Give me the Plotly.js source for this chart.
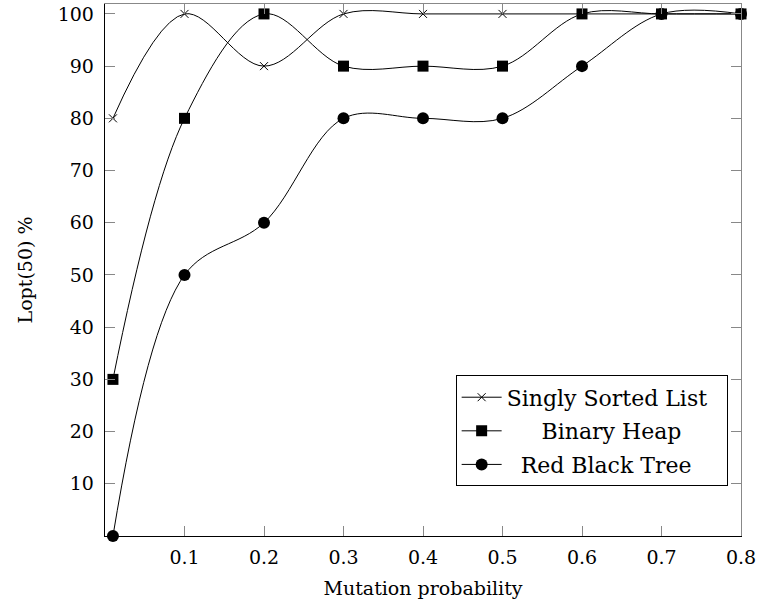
<!DOCTYPE html>
<html>
<head>
<meta charset="utf-8">
<script src="https://cdn.plot.ly/plotly-3.0.1.min.js"></script>
<style>html,body{margin:0;padding:0;background:#fff;}#chart{width:760px;height:607px;}</style>
</head>
<body>
<div id="chart"></div>
<script>
const mutationProb = [0.01, 0.1, 0.2, 0.3, 0.4, 0.5, 0.6, 0.7, 0.8];
const singlySortedList = [80, 100, 90, 100, 100, 100, 100, 100, 100];
const binaryHeap = [30, 80, 100, 90, 90, 90, 100, 100, 100];
const redBlackTree = [0, 50, 60, 80, 80, 80, 90, 100, 100];
const seriesNames = ['Singly Sorted List', 'Binary Heap', 'Red Black Tree'];
const xTickVals = [0.1, 0.2, 0.3, 0.4, 0.5, 0.6, 0.7, 0.8];
const xTickText = ['0.1', '0.2', '0.3', '0.4', '0.5', '0.6', '0.7', '0.8'];
const yTickVals = [10, 20, 30, 40, 50, 60, 70, 80, 90, 100];
const yTickText = ['10', '20', '30', '40', '50', '60', '70', '80', '90', '100'];

const FONT = 'DejaVu Serif, Liberation Serif, serif';
const lineStyle = {color: '#000', width: 1, shape: 'spline', smoothing: 1};
const NB = '\u00a0';

const traces = [
  {x: mutationProb, y: singlySortedList, name: seriesNames[0] + NB.repeat(2), legendgroup: 'a', mode: 'lines+markers',
   line: lineStyle, marker: {symbol: 'x-thin', size: 8, color: '#000', line: {color: '#000', width: 1}}},
  {x: mutationProb, y: binaryHeap, name: NB.repeat(5) + seriesNames[1] + NB.repeat(2), legendgroup: 'b', mode: 'lines+markers',
   line: lineStyle, marker: {symbol: 'square', size: 11, color: '#000'}},
  {x: mutationProb, y: redBlackTree, name: NB.repeat(2) + seriesNames[2] + NB.repeat(2), legendgroup: 'c', mode: 'lines+markers',
   line: lineStyle, marker: {symbol: 'circle', size: 12, color: '#000'}}
];
traces.forEach(t => t.cliponaxis = false);

const axisCommon = {showgrid: false, zeroline: false, ticks: 'inside', ticklen: 10,
                    tickcolor: '#888', tickwidth: 1, showline: true, linewidth: 1.3};

const layout = {
  width: 760, height: 607,
  margin: {l: 105, r: 19, t: 4, b: 71},
  paper_bgcolor: '#fff', plot_bgcolor: '#fff',
  font: {family: FONT, size: 19, color: '#000'},
  showlegend: true,
  legend: {x: 0.979, y: 0.0932, xanchor: 'right', yanchor: 'bottom',
           bordercolor: '#000', borderwidth: 1, bgcolor: '#fff', itemwidth: 40,
           font: {family: FONT, size: 22, color: '#000'}, tracegroupgap: 2},
  xaxis: Object.assign({}, axisCommon, {range: [0, 0.8], tickvals: xTickVals, ticktext: xTickText,
          linecolor: '#000', mirror: false, ticklabelstandoff: 4,
          title: {text: 'Mutation probability', font: {family: FONT, size: 19}, standoff: 14},
          tickfont: {family: FONT, size: 19}}),
  yaxis: Object.assign({}, axisCommon, {range: [0, 101.9], tickvals: yTickVals, ticktext: yTickText,
          linecolor: '#000', mirror: false, ticklabelstandoff: 6,
          title: {text: 'Lopt(50) %', font: {family: FONT, size: 19}, standoff: 20},
          tickfont: {family: FONT, size: 19}}),
  xaxis2: Object.assign({}, axisCommon, {overlaying: 'x', matches: 'x', side: 'top', range: [0, 0.8],
           tickvals: xTickVals, showticklabels: false, linecolor: '#888'}),
  yaxis2: Object.assign({}, axisCommon, {overlaying: 'y', matches: 'y', side: 'right', range: [0, 101.9],
           tickvals: yTickVals, showticklabels: false, linecolor: '#888'})
};

// invisible helper trace so the mirrored axes are drawn
traces.push({x: [0.4], y: [50], xaxis: 'x2', yaxis: 'y2', mode: 'markers',
             marker: {opacity: 0}, showlegend: false, hoverinfo: 'skip'});

Plotly.newPlot('chart', traces, layout, {displayModeBar: false, staticPlot: true});
</script>
</body>
</html>
